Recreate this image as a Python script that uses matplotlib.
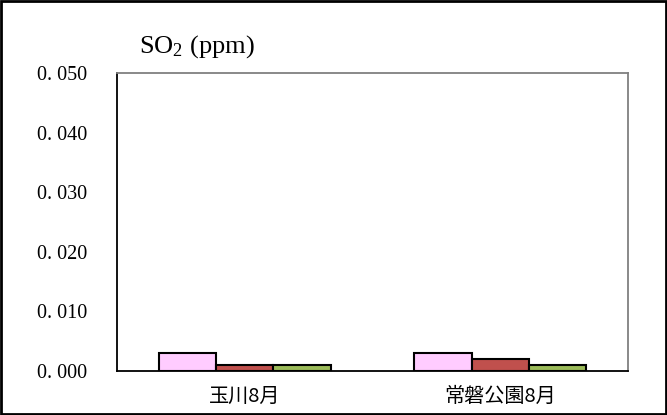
import numpy as np
import matplotlib
matplotlib.use("Agg")
import matplotlib.pyplot as plt
from matplotlib.patches import Rectangle

plt.rcParams['font.family'] = ['Noto Sans CJK JP', 'DejaVu Sans']
plt.rcParams['mathtext.fontset'] = 'custom'
plt.rcParams['mathtext.rm'] = 'Liberation Serif'
plt.rcParams['mathtext.it'] = 'Liberation Serif'

sites = ['玉川8月', '常磐公園8月']
series_a = [0.003, 0.003]
series_b = [0.001, 0.002]
series_c = [0.001, 0.001]
yticks = [0.0, 0.01, 0.02, 0.03, 0.04, 0.05]
ytick_labels = ['0. 000', '0. 010', '0. 020', '0. 030', '0. 040', '0. 050']

colors = ['#FFCCFF', '#C0504D', '#9BBB59']

fig = plt.figure(figsize=(6.67, 4.15), dpi=100)
ax = fig.add_axes([0.1754, 0.106, 0.7661, 0.718])

x = np.arange(len(sites))
w = 0.224
for i, (vals, c) in enumerate(zip([series_a, series_b, series_c], colors)):
    ax.bar(x + (i - 1) * w, vals, width=w, color=c, edgecolor='black', linewidth=1.5, zorder=3)

ax.set_xlim(-0.5, 1.5)
ax.set_ylim(0, 0.05)
ax.set_yticks(yticks)
ax.set_yticklabels(ytick_labels, fontfamily='Liberation Serif', fontsize=14.5)
ax.set_xticks(x)
ax.set_xticklabels(sites, fontsize=14.5)
ax.tick_params(axis='both', length=0)
ax.tick_params(axis='y', pad=21.5)
ax.tick_params(axis='x', pad=10.5)

for side in ['left', 'bottom']:
    ax.spines[side].set_color('black')
    ax.spines[side].set_linewidth(1.3)
for side in ['top', 'right']:
    ax.spines[side].set_color('#808080')
    ax.spines[side].set_linewidth(1.3)

fig.text(0.209, 0.874, r'SO$_2$ (ppm)', fontfamily='Liberation Serif', fontsize=19, va='baseline')

# outer frame
fig.patches.append(Rectangle((0.002, 0.003), 0.996, 0.994, transform=fig.transFigure,
                             fill=False, edgecolor='black', linewidth=2))

fig.savefig('out.png', dpi=100)
